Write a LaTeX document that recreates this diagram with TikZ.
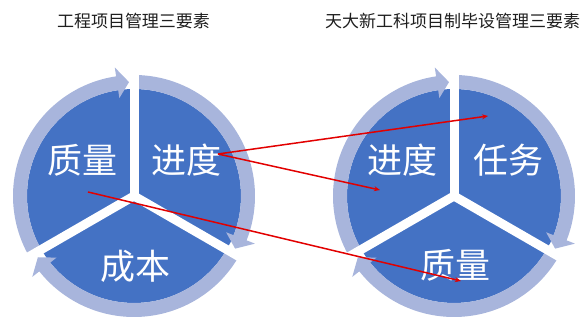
\documentclass[tikz,border=0pt]{standalone}
\usepackage{fontspec}
\newfontfamily\cjk{Noto Sans CJK SC}
\usetikzlibrary{arrows.meta}
\definecolor{pieblue}{RGB}{68,114,196}
\definecolor{ringblue}{RGB}{168,181,220}
\definecolor{redline}{RGB}{226,0,0}
\definecolor{titlec}{RGB}{30,30,30}
\newcommand\RingArrow[2]{%
  \fill[ringblue] (#1:121) arc[start angle=#1, end angle={#2+6}, radius=121pt]
    -- ({#2+6}:130) -- (#2:114) -- ({#2+6}:99) -- ({#2+6}:107)
    arc[start angle={#2+6}, end angle=#1, radius=107pt] -- cycle;}
\newcommand\DrawWheel{%
  \fill[pieblue] (0,0) circle[radius=107pt];
  \RingArrow{90}{-27.5}
  \RingArrow{-30}{-147.5}
  \RingArrow{-150}{-267.5}
  \foreach \a in {90,-30,-150} \draw[white,line width=9pt] (0,0) -- (\a:136);
  \fill[white] (0,0) circle[radius=4.6pt];}
\begin{document}
\begin{tikzpicture}[x=1pt,y=1pt,
  lbl/.style={text=white,font=\cjk\fontsize{35}{35}\selectfont,inner sep=0pt},
  ttl/.style={text=titlec,font=\cjk\fontsize{17}{17}\selectfont,inner sep=0pt},
  redarrow/.style={draw=redline,line width=1.5pt,-{Stealth[length=6pt,width=5pt]}}]
\useasboundingbox (0,0) rectangle (582,320);
\begin{scope}[shift={(134,124)}]\DrawWheel\end{scope}
\begin{scope}[shift={(454,124)}]\DrawWheel\end{scope}
\node[ttl] (t1) at (133.5,299) {工程项目管理三要素};
\node[ttl] (t2) at (452.5,299) {天大新工科项目制毕设管理三要素};
\node[lbl] (lq) at (83,160) {质量};
\node[lbl] (lj) at (186,160) {进度};
\node[lbl] (lc) at (135,54) {成本};
\node[lbl] (rj) at (402,160) {进度};
\node[lbl] (rr) at (508,160) {任务};
\node[lbl] (rq) at (455,55) {质量};
\coordinate (p1) at (218,166);
\coordinate (q1) at (488,204);
\coordinate (q2) at (380,130);
\coordinate (p3) at (88,128);
\coordinate (q3) at (461,39);
\draw[redarrow] (p1) -- (q1);
\draw[redarrow] (p1) -- (q2);
\draw[redarrow] (p3) -- (q3);
\end{tikzpicture}
\end{document}
